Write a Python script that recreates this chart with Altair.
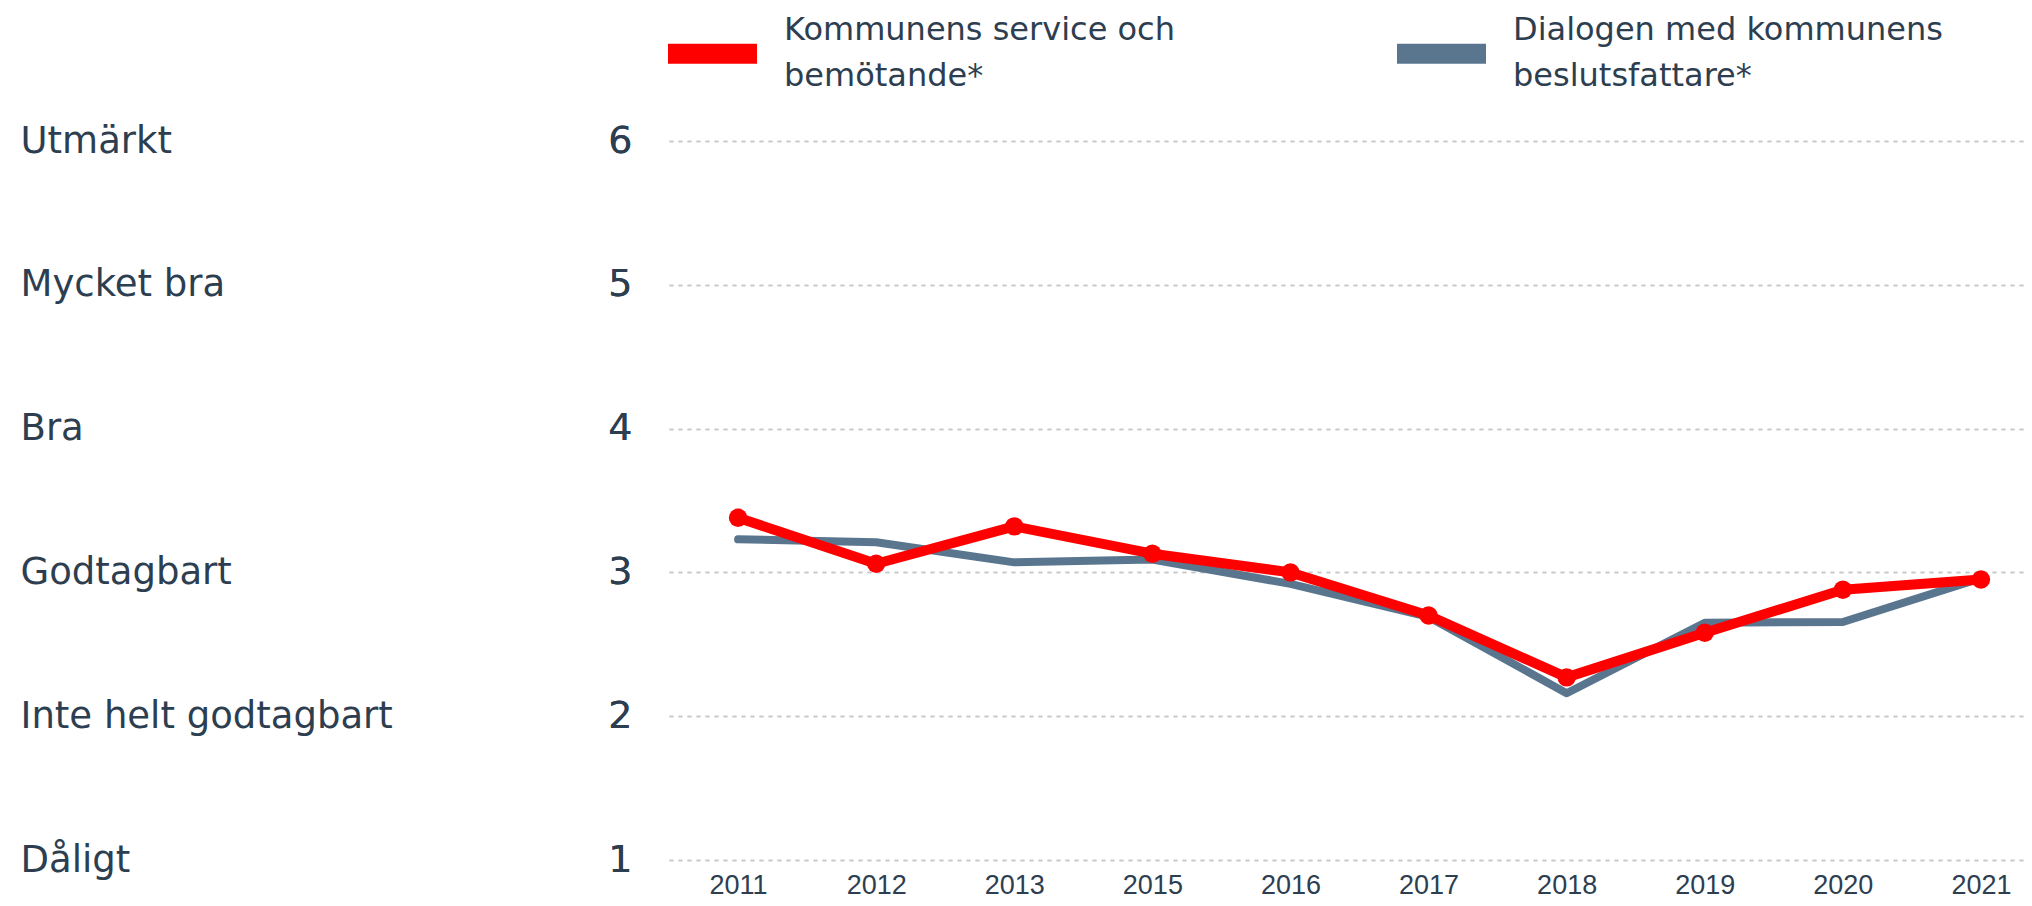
import altair as alt
import pandas as pd

years = ["2011", "2012", "2013", "2015", "2016", "2017", "2018", "2019", "2020", "2021"]
service = [3.38, 3.06, 3.32, 3.13, 3.00, 2.70, 2.27, 2.58, 2.88, 2.95]
dialog = [3.23, 3.21, 3.07, 3.09, 2.92, 2.69, 2.16, 2.65, 2.655, 2.96]
series_names = ["Kommunens service och\nbemötande*", "Dialogen med kommunens\nbeslutsfattare*"]
series_colors = ["#ff0000", "#5a768f"]
y_ticks = [1, 2, 3, 4, 5, 6]
y_words = ["Dåligt", "Inte helt godtagbart", "Godtagbart", "Bra", "Mycket bra", "Utmärkt"]

rows = []
for name, vals in zip(series_names, [service, dialog]):
    for yr, v in zip(years, vals):
        rows.append({"year": yr, "value": v, "series": name})
df = pd.DataFrame(rows)

TEXT = "#2d3e50"
FONT = "DejaVu Sans"

word_expr = "''"
for t, w in zip(y_ticks, y_words):
    word_expr = f"datum.value == {t} ? '{w}' : ({word_expr})"

x_enc = alt.X(
    "year:O", sort=years,
    scale=alt.Scale(type="point", padding=0.406, align=0.616),
    axis=alt.Axis(title=None, labelAngle=0, ticks=False, domain=False, grid=False,
                  labelFont="Liberation Sans", labelFontSize=27, labelColor=TEXT,
                  labelPadding=12, labelBaseline="top"),
)
y_scale = alt.Scale(domain=[1, 6], nice=False, zero=False)
y_num = alt.Y(
    "value:Q", scale=y_scale,
    axis=alt.Axis(orient="left", title=None, values=y_ticks, ticks=False, domain=False,
                  grid=True, gridDash=[4, 5], gridColor="#c8c8c8", gridWidth=1.5,
                  labelFont=FONT, labelFontSize=38, labelColor=TEXT, labelPadding=37,
                  labelAlign="right", labelBaseline="middle"),
)
y_word = alt.Y(
    "value:Q", scale=y_scale,
    axis=alt.Axis(orient="left", title=None, values=y_ticks, ticks=False, domain=False,
                  grid=False, offset=649, labelPadding=0, labelAlign="left",
                  labelBaseline="middle", labelExpr=word_expr, labelLimit=0,
                  labelFont=FONT, labelFontSize=37, labelColor=TEXT),
)

legend = alt.Legend(
    orient="none", legendX=-11, legendY=-142, direction="horizontal", title=None,
    symbolType="stroke", symbolSize=7921, symbolStrokeWidth=20,
    labelExpr="split(datum.label, '\\n')", labelFont=FONT, labelFontSize=32,
    labelColor=TEXT, labelLimit=0, labelOffset=17, labelBaseline="line-bottom",
    columnPadding=182,
)
color_enc = alt.Color(
    "series:N",
    scale=alt.Scale(domain=series_names, range=series_colors),
    legend=legend,
)

base = alt.Chart(df)
gray_line = base.transform_filter(
    alt.FieldEqualPredicate(field="series", equal=series_names[1])
).mark_line(strokeWidth=8, strokeCap="round", strokeJoin="round").encode(
    x=x_enc, y=y_num, color=color_enc
)
red_line = base.transform_filter(
    alt.FieldEqualPredicate(field="series", equal=series_names[0])
).mark_line(strokeWidth=10, strokeCap="round", strokeJoin="round").encode(
    x=x_enc, y=y_num, color=color_enc
)
red_pts = base.transform_filter(
    alt.FieldEqualPredicate(field="series", equal=series_names[0])
).mark_circle(size=340, opacity=1, color=series_colors[0]).encode(
    x=x_enc, y=y_word
)

chart = alt.layer(gray_line, red_line, red_pts).resolve_axis(y="independent").properties(
    width=1355, height=719,
    autosize=alt.AutoSizeParams(type="none"),
    padding={"left": 661, "top": 133, "right": 0, "bottom": 38},
    background="white",
).configure(
    style={"guide-label": {"lineHeight": 46}}
).configure_view(
    strokeWidth=0
).configure_axis(
    domain=False, ticks=False
)

chart.save("out.html", embed_options={"renderer": "svg", "actions": False})
